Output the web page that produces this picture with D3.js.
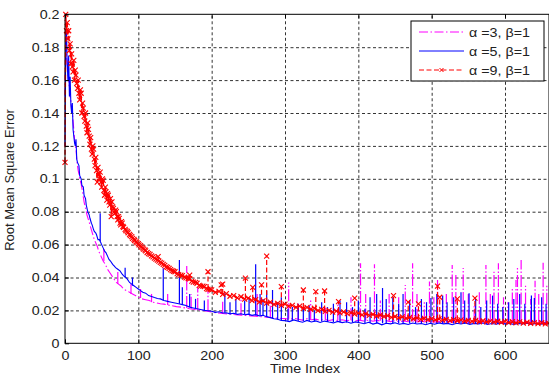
<!DOCTYPE html>
<html>
<head>
<meta charset="utf-8">
<script src="https://cdn.jsdelivr.net/npm/d3@7"></script>
<style>
  body { margin: 0; background: #fff; }
  svg text { font-family: "Liberation Sans", Arial, sans-serif; font-size: 13px; fill: #222; }
  .grid line { stroke: #333; stroke-dasharray: 3,2.5; stroke-width: 1; }
  .grid path { display: none; }
</style>
</head>
<body>
<div id="chart"></div>
<script>
// time index ticks and RMSE ticks
var xTicks = [0, 100, 200, 300, 400, 500, 600];
var yTicks = [0, 0.02, 0.04, 0.06, 0.08, 0.1, 0.12, 0.14, 0.16, 0.18, 0.2];
var seriesNames = ["\u03b1 =3, \u03b2=1", "\u03b1 =5, \u03b2=1", "\u03b1 =9, \u03b2=1"];

// alpha = 3 (magenta), [time, rmse]
var alpha3 = [[0,0.15],[1,0.19],[2,0.175],[3,0.17],[4,0.165],[5,0.16],[6,0.155],[7,0.15],[8,0.148],[9,0.142],[10,0.14],
  [11,0.135],[12,0.13],[13,0.124],[14,0.12],[15,0.118],[16,0.112],[17,0.108],[18,0.105],[19,0.103],[20,0.1],[22,0.097],
  [24,0.092],[26,0.086],[28,0.082],[30,0.078],[32,0.075],[34,0.072],[36,0.069],[38,0.066],[40,0.063],[42,0.061],[44,0.059],
  [46,0.056],[48,0.054],[50,0.052],[52,0.05],[55,0.048],[58,0.045],[61,0.043],[64,0.041],[67,0.039],[70,0.037],[73,0.036],
  [76,0.035],[80,0.033],[84,0.032],[88,0.031],[92,0.03],[96,0.029],[100,0.028],[105,0.027],[110,0.0265],[115,0.026],
  [120,0.025],[125,0.0245],[130,0.024],[135,0.0238],[140,0.0233],[146,0.0228],[152,0.0223],[158,0.022],[164,0.0215],
  [170,0.021],[177,0.0205],[185,0.0202],[192,0.0196],[200,0.019],[206,0.0186],[212,0.0183],[218,0.018],[224,0.0178],
  [230,0.0175],[236,0.0173],[242,0.0171],[248,0.0169],[254,0.0167],[260,0.0165],[266,0.0162],[272,0.016],[278,0.0157],
  [284,0.0155],[290,0.0153],[296,0.0151],[300,0.015],[306,0.0145],[312,0.0152],[318,0.0146],[324,0.0141],[330,0.015],
  [336,0.0143],[342,0.0147],[348,0.014],[354,0.0146],[360,0.0139],[366,0.0144],[372,0.0138],[378,0.0143],[384,0.0137],
  [390,0.0142],[396,0.0136],[402,0.014],[408,0.0135],[414,0.0141],[420,0.0134],[426,0.0139],[432,0.0133],[438,0.0138],
  [444,0.0132],[450,0.0137],[456,0.0131],[462,0.0136],[468,0.0131],[474,0.0135],[480,0.013],[486,0.0135],[492,0.0129],
  [498,0.0134],[504,0.0129],[510,0.0133],[516,0.0128],[522,0.0133],[528,0.0128],[534,0.0132],[540,0.0127],[546,0.0132],
  [552,0.0127],[558,0.0131],[564,0.0126],[570,0.0131],[576,0.0126],[582,0.013],[588,0.0125],[594,0.013],[600,0.0125],
  [606,0.0129],[612,0.0124],[618,0.0129],[624,0.0124],[630,0.0128],[636,0.0123],[642,0.0128],[648,0.0123],[654,0.0127],
  [659,0.0123]];
// spikes: [time, low, high]
var alpha3Spikes = [[53,0.05,0.058],[72,0.036,0.044],[90,0.03,0.036],[103,0.0275,0.033],[118,0.025,0.03],[140,0.0233,0.03],
  [166,0.0215,0.047],[172,0.021,0.03],[181,0.0203,0.034],[195,0.0195,0.032],[215,0.018,0.026],[240,0.017,0.028],
  [262,0.0163,0.03],[280,0.0156,0.025],[305,0.015,0.037],[318,0.0148,0.024],[335,0.0145,0.026],[355,0.0143,0.022],
  [372,0.014,0.025],[390,0.014,0.028],[403,0.0138,0.0486],[410,0.0138,0.03],[422,0.0137,0.048],[430,0.0137,0.026],
  [442,0.0136,0.03],[455,0.0136,0.028],[464,0.0135,0.0355],[474,0.0135,0.0486],[480,0.0135,0.03],[490,0.0134,0.025],
  [497,0.0134,0.0375],[503,0.0134,0.028],[508,0.0134,0.0385],[515,0.0133,0.026],[520,0.0133,0.03],[528,0.0133,0.0476],
  [533,0.0133,0.0415],[543,0.0132,0.0458],[550,0.0132,0.03],[558,0.0132,0.024],[565,0.0131,0.032],[574,0.0131,0.0476],
  [580,0.0131,0.03],[585,0.013,0.0435],[591,0.013,0.0486],[598,0.013,0.028],[604,0.013,0.025],[610,0.013,0.033],
  [615,0.0129,0.0385],[617,0.0129,0.0457],[622,0.0129,0.0506],[628,0.0129,0.035],[635,0.0128,0.027],[641,0.0128,0.038],
  [646,0.0128,0.03],[652,0.0128,0.049],[657,0.0128,0.035]];

// alpha = 5 (blue)
var alpha5 = [[0,0.12],[1,0.185],[2,0.19],[3,0.17],[4,0.16],[5,0.175],[6,0.15],[7,0.162],[8,0.145],[9,0.14],[10,0.146],
  [11,0.13],[12,0.126],[13,0.122],[14,0.12],[15,0.124],[16,0.112],[17,0.11],[19,0.108],[20,0.102],[22,0.1],[23,0.096],
  [25,0.095],[26,0.09],[28,0.088],[29,0.084],[31,0.08],[33,0.078],[34,0.076],[36,0.073],[37,0.072],[39,0.069],[40,0.068],
  [42,0.067],[43,0.066],[45,0.063],[47,0.063],[50,0.06],[52,0.058],[54,0.056],[56,0.055],[58,0.053],[60,0.051],[62,0.05],
  [65,0.048],[67,0.047],[69,0.046],[72,0.045],[75,0.044],[78,0.042],[80,0.041],[83,0.04],[85,0.039],[88,0.037],[91,0.036],
  [94,0.035],[97,0.034],[100,0.033],[103,0.032],[106,0.031],[110,0.0305],[114,0.029],[118,0.0285],[122,0.0278],
  [126,0.0272],[130,0.027],[135,0.026],[140,0.0255],[145,0.025],[150,0.0245],[155,0.024],[160,0.0235],[165,0.023],
  [170,0.022],[175,0.0215],[180,0.021],[185,0.0205],[190,0.02],[195,0.0198],[200,0.0195],[205,0.0188],[210,0.0192],
  [215,0.0184],[220,0.0186],[225,0.0179],[230,0.0183],[235,0.0176],[240,0.018],[245,0.0174],[250,0.0177],[255,0.017],
  [260,0.0174],[265,0.0167],[270,0.017],[275,0.0162],[280,0.0156],[285,0.0149],[290,0.0146],[295,0.0139],[300,0.0138],
  [306,0.0132],[312,0.0142],[318,0.0134],[324,0.0128],[330,0.0139],[336,0.013],[342,0.0136],[348,0.0127],[354,0.0135],
  [360,0.0129],[366,0.0124],[372,0.0133],[378,0.0126],[384,0.0131],[390,0.0122],[396,0.013],[402,0.0125],[408,0.0119],
  [414,0.0128],[420,0.0117],[426,0.0124],[432,0.0112],[438,0.0122],[444,0.0118],[450,0.0125],[456,0.0116],[462,0.0121],
  [468,0.0114],[474,0.0123],[480,0.0117],[486,0.012],[492,0.0113],[498,0.0122],[504,0.0116],[510,0.0124],[516,0.0118],
  [522,0.0121],[528,0.0113],[534,0.0122],[540,0.0117],[546,0.0124],[552,0.0115],[558,0.0121],[564,0.0118],[570,0.0123],
  [576,0.0114],[582,0.012],[588,0.0116],[594,0.0123],[600,0.0118],[606,0.0121],[612,0.0114],[618,0.012],[624,0.0117],
  [630,0.0122],[636,0.0115],[642,0.012],[648,0.0116],[654,0.0121],[659,0.0118]];
var alpha5Spikes = [[48,0.062,0.079],[82,0.04,0.046],[92,0.035,0.04],[134,0.026,0.0456],[156,0.024,0.0506],
  [160,0.0235,0.034],[170,0.022,0.03],[178,0.021,0.027],[190,0.02,0.026],[218,0.0185,0.0305],[225,0.018,0.025],
  [233,0.018,0.027],[245,0.0176,0.026],[251,0.0175,0.028],[260,0.017,0.048],[266,0.017,0.03],[270,0.0168,0.027],
  [275,0.016,0.032],[283,0.0152,0.0324],[290,0.0145,0.025],[295,0.014,0.028],[304,0.0137,0.021],[310,0.0136,0.022],
  [318,0.0135,0.024],[325,0.0135,0.021],[333,0.0134,0.023],[340,0.0133,0.02],[350,0.0132,0.025],[358,0.013,0.022],
  [366,0.013,0.024],[375,0.0128,0.026],[384,0.0127,0.025],[392,0.0126,0.022],[400,0.0125,0.026],[409,0.0124,0.021],
  [416,0.0123,0.028],[425,0.0122,0.03],[433,0.0122,0.0336],[438,0.0121,0.027],[447,0.012,0.028],[455,0.012,0.024],
  [461,0.012,0.03],[470,0.012,0.026],[478,0.012,0.022],[486,0.012,0.027],[493,0.012,0.025],[499,0.012,0.0275],
  [507,0.012,0.03],[515,0.012,0.029],[521,0.012,0.025],[530,0.012,0.028],[540,0.0119,0.031],[545,0.0119,0.026],
  [551,0.0119,0.0305],[560,0.0119,0.027],[567,0.0118,0.022],[575,0.0118,0.026],[583,0.0118,0.029],[590,0.0118,0.024],
  [597,0.0118,0.022],[605,0.0118,0.025],[612,0.0117,0.027],[620,0.0117,0.03],[627,0.0117,0.024],[636,0.0117,0.029],
  [640,0.0117,0.0275],[650,0.0116,0.028],[656,0.0116,0.024]];

// alpha = 9 (red, x markers)
var alpha9 = [[0,0.11],[1,0.2],[2,0.19],[3,0.195],[4,0.185],[5,0.19],[6,0.178],[7,0.182],[8,0.17],[9,0.176],[10,0.168],
  [11,0.165],[12,0.172],[13,0.16],[14,0.166],[15,0.163],[16,0.158],[17,0.155],[18,0.16],[19,0.152],[20,0.148],[21,0.154],
  [22,0.152],[23,0.14],[24,0.146],[25,0.143],[26,0.138],[27,0.135],[28,0.14],[29,0.132],[30,0.128],[31,0.134],[32,0.13],
  [33,0.126],[34,0.121],[35,0.125],[36,0.118],[37,0.115],[38,0.12],[39,0.118],[40,0.112],[41,0.108],[42,0.113],[43,0.105],
  [44,0.098],[45,0.107],[46,0.103],[47,0.1],[48,0.104],[49,0.098],[50,0.095],[51,0.1],[52,0.099],[53,0.093],[54,0.09],
  [55,0.095],[56,0.092],[57,0.087],[58,0.091],[59,0.09],[60,0.086],[61,0.084],[62,0.088],[63,0.077],[64,0.086],[65,0.083],
  [66,0.082],[67,0.08],[68,0.079],[69,0.081],[70,0.08],[71,0.077],[72,0.075],[73,0.077],[74,0.076],[75,0.073],[76,0.072],
  [77,0.074],[78,0.073],[79,0.071],[80,0.0705],[82,0.0692],[83,0.0685],[85,0.068],[86,0.0672],[88,0.0662],[89,0.0655],
  [91,0.0648],[92,0.0638],[94,0.0632],[95,0.0625],[97,0.0618],[98,0.0612],[100,0.0606],[101,0.0598],[103,0.0594],
  [104,0.0585],[106,0.058],[107,0.0572],[109,0.0568],[110,0.0562],[112,0.0552],[114,0.0545],[116,0.054],[118,0.0532],
  [120,0.0526],[122,0.0518],[124,0.0512],[126,0.0505],[128,0.05],[130,0.0492],[132,0.0487],[134,0.048],[136,0.0474],
  [138,0.0465],[140,0.0462],[142,0.0455],[144,0.0448],[146,0.0442],[148,0.0438],[150,0.0435],[153,0.0424],[155,0.0418],
  [158,0.0415],[160,0.0412],[163,0.0402],[165,0.0398],[168,0.0394],[170,0.0392],[173,0.0378],[175,0.0372],[178,0.037],
  [180,0.0365],[183,0.0352],[185,0.0348],[188,0.0348],[190,0.0345],[193,0.0332],[195,0.0328],[198,0.0328],[200,0.0325],
  [205,0.031],[210,0.0315],[215,0.0298],[220,0.0302],[225,0.0286],[230,0.029],[235,0.0276],[240,0.0283],[245,0.0268],
  [250,0.0275],[255,0.026],[260,0.0266],[265,0.0251],[270,0.0258],[275,0.0244],[280,0.025],[285,0.0236],[290,0.0243],
  [295,0.0231],[300,0.0238],[305,0.0226],[310,0.0231],[315,0.0219],[320,0.0226],[325,0.0212],[330,0.0218],[335,0.0206],
  [340,0.0213],[345,0.0199],[350,0.0206],[355,0.0194],[360,0.02],[365,0.0189],[370,0.0195],[375,0.0185],[380,0.0191],
  [385,0.0181],[390,0.0187],[395,0.0177],[400,0.0183],[405,0.0173],[410,0.0179],[415,0.017],[420,0.0176],[425,0.0166],
  [430,0.0172],[435,0.0163],[440,0.0168],[445,0.0157],[450,0.0163],[455,0.0154],[460,0.016],[465,0.0151],[470,0.0157],
  [475,0.0149],[480,0.0154],[485,0.0146],[490,0.0152],[495,0.0144],[500,0.015],[505,0.0142],[510,0.0148],[515,0.0141],
  [520,0.0146],[525,0.0138],[530,0.0144],[535,0.0137],[540,0.0142],[545,0.0135],[550,0.014],[555,0.0133],[560,0.0139],
  [565,0.0131],[570,0.0137],[575,0.013],[580,0.0135],[585,0.0129],[590,0.0134],[595,0.0127],[600,0.0133],[605,0.0126],
  [610,0.0131],[615,0.0124],[620,0.013],[625,0.0122],[630,0.0128],[635,0.0121],[640,0.0126],[645,0.0119],[650,0.0125],
  [655,0.0118],[659,0.0122]];
var alpha9Spikes = [[127,0.05,0.0527],[170,0.039,0.0415],[195,0.033,0.0435],[213,0.03,0.0355],[215,0.03,0.036],
  [246,0.0272,0.0396],[256,0.0265,0.034],[268,0.025,0.0355],[275,0.0248,0.053],[295,0.0235,0.0344],[325,0.0215,0.0324],
  [342,0.0205,0.0314],[354,0.02,0.0318],[373,0.019,0.0253],[395,0.018,0.0275],[448,0.016,0.029],[468,0.0153,0.025],
  [482,0.015,0.024],[508,0.0145,0.0348],[511,0.0144,0.028],[535,0.014,0.027],[559,0.0135,0.0275]];

var width = 549, height = 376;
var plotLeft = 65, plotRight = 549, plotTop = 14.3, plotBottom = 343.3;
var textStretch = "scale(1.1,1)";

var svg = d3.select("#chart").append("svg")
  .attr("width", width)
  .attr("height", height);

var x = d3.scaleLinear().domain([0, 660]).range([plotLeft, plotRight]);
var y = d3.scaleLinear().domain([0, 0.2]).range([plotBottom, plotTop]);

// dotted grid
svg.append("g")
  .attr("class", "grid")
  .attr("transform", "translate(0," + plotBottom + ")")
  .call(d3.axisBottom(x).tickValues(xTicks.slice(1)).tickSize(-(plotBottom - plotTop)).tickFormat(""));
svg.append("g")
  .attr("class", "grid")
  .attr("transform", "translate(" + plotLeft + ",0)")
  .call(d3.axisLeft(y).tickValues(yTicks.slice(1, -1)).tickSize(-(plotRight - plotLeft)).tickFormat(""));

var styles = [
  { color: "#ff00ff", dash: "9,2.5,1.5,2.5" },
  { color: "#0000ff", dash: null },
  { color: "#ff0000", dash: "5,2.5" }
];
var allData = [alpha3, alpha5, alpha9];
var allSpikes = [alpha3Spikes, alpha5Spikes, alpha9Spikes];

var line = d3.line()
  .x(function (d) { return x(d[0]); })
  .y(function (d) { return y(d[1]); });

var plot = svg.append("g");

allData.forEach(function (data, i) {
  var s = styles[i];
  var g = plot.append("g");
  g.append("path")
    .datum(data)
    .attr("d", line)
    .attr("fill", "none")
    .attr("stroke", s.color)
    .attr("stroke-width", i === 2 ? 1.4 : 1.1)
    .attr("stroke-dasharray", s.dash);
  g.selectAll("line.spike")
    .data(allSpikes[i])
    .enter()
    .append("line")
    .attr("class", "spike")
    .attr("x1", function (d) { return x(d[0]); })
    .attr("x2", function (d) { return x(d[0]); })
    .attr("y1", function (d) { return y(d[1]); })
    .attr("y2", function (d) { return y(d[2]); })
    .attr("stroke", s.color)
    .attr("stroke-width", 1.2)
    .attr("stroke-dasharray", i === 0 ? "12,2,1.5,2" : s.dash);
});

// x markers on the alpha = 9 series
var marker = "M-2.5,-2.5L2.5,2.5M-2.5,2.5L2.5,-2.5";
plot.append("g")
  .selectAll("path")
  .data(alpha9.concat(alpha9Spikes.map(function (d) { return [d[0], d[2]]; })))
  .enter()
  .append("path")
  .attr("d", marker)
  .attr("transform", function (d) { return "translate(" + x(d[0]) + "," + y(d[1]) + ")"; })
  .attr("stroke", "#ff0000")
  .attr("stroke-width", 1.1)
  .attr("fill", "none");

// box
svg.append("rect")
  .attr("x", plotLeft)
  .attr("y", plotTop)
  .attr("width", plotRight - plotLeft)
  .attr("height", plotBottom - plotTop)
  .attr("fill", "none")
  .attr("stroke", "#000")
  .attr("stroke-width", 1);

// inward ticks, MATLAB style
var xAxis = svg.append("g")
  .attr("transform", "translate(0," + plotBottom + ")")
  .call(d3.axisBottom(x).tickValues(xTicks).tickSizeInner(-4).tickSizeOuter(0).tickPadding(7).tickFormat(d3.format("d")));
var xTop = svg.append("g")
  .attr("transform", "translate(0," + plotTop + ")")
  .call(d3.axisTop(x).tickValues(xTicks).tickSizeInner(-4).tickSizeOuter(0).tickFormat(""));
var yAxis = svg.append("g")
  .attr("transform", "translate(" + plotLeft + ",0)")
  .call(d3.axisLeft(y).tickValues(yTicks).tickSizeInner(-4).tickSizeOuter(0).tickPadding(5).tickFormat(function (d) { return String(+d.toFixed(2)); }));
[xAxis, xTop, yAxis].forEach(function (a) {
  a.select(".domain").remove();
  a.selectAll("line").attr("stroke", "#000");
  a.selectAll("text").attr("font-family", null).attr("font-size", null).attr("transform", textStretch);
});

// axis titles
svg.append("text")
  .attr("transform", "translate(305,373) " + textStretch)
  .attr("text-anchor", "middle")
  .text("Time Index");
svg.append("text")
  .attr("transform", "translate(14," + 180 + ") rotate(-90)")
  .attr("text-anchor", "middle")
  .text("Root Mean Square Error");

// legend
var legend = svg.append("g");
legend.append("rect")
  .attr("x", 411)
  .attr("y", 21)
  .attr("width", 133)
  .attr("height", 60)
  .attr("fill", "#fff")
  .attr("stroke", "#000");
seriesNames.forEach(function (name, i) {
  var ly = 32 + i * 19;
  legend.append("line")
    .attr("x1", 419).attr("x2", 464)
    .attr("y1", ly).attr("y2", ly)
    .attr("stroke", styles[i].color)
    .attr("stroke-dasharray", styles[i].dash);
  if (i === 2) {
    legend.append("path")
      .attr("d", "M-2,-2L2,2M-2,2L2,-2")
      .attr("transform", "translate(441.5," + ly + ")")
      .attr("stroke", "#ff0000")
      .attr("fill", "none");
  }
  legend.append("text")
    .attr("transform", "translate(469," + (ly + 4.5) + ") " + textStretch)
    .text(name);
});
</script>
</body>
</html>
